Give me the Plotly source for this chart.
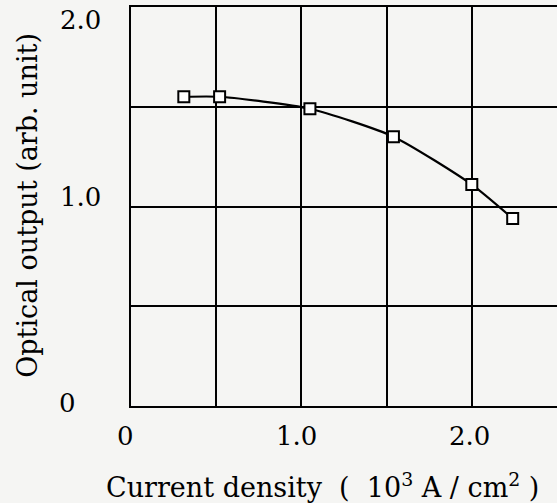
import plotly.graph_objects as go

current_density = [0.31, 0.52, 1.05, 1.54, 2.00, 2.24]
optical_output = [1.55, 1.55, 1.49, 1.35, 1.11, 0.94]

x_tick_values = [0, 1.0, 2.0]
x_tick_labels = ["0", "1.0", "2.0"]
y_tick_values = [0, 1.0, 2.0]
y_tick_labels = ["0", "1.0", "2.0"]

font_family = "DejaVu Serif, Liberation Serif, serif"
bg = "#f5f5f3"

fig = go.Figure()
fig.add_trace(go.Scatter(
    x=current_density, y=optical_output,
    mode="lines+markers",
    line=dict(color="black", width=2.2, shape="spline", smoothing=0.6),
    marker=dict(symbol="square", size=11, color="white",
                line=dict(color="black", width=2)),
    showlegend=False,
    cliponaxis=False,
))

# tick labels placed as annotations (scanned original has irregular offsets)
x_shift = [-6, -5, -2]
y_shift = [3, 10, -13]
y_x = [-0.148, -0.1174, -0.1174]
annotations = []
for v, t, s in zip(x_tick_values, x_tick_labels, x_shift):
    annotations.append(dict(text=t, x=v, xref="x", y=0, yref="paper",
                            yanchor="middle", xanchor="center", yshift=-30, xshift=s,
                            showarrow=False, font=dict(size=26, family=font_family)))
for v, t, s, px in zip(y_tick_values, y_tick_labels, y_shift, y_x):
    annotations.append(dict(text=t, x=px, xref="paper", y=v, yref="y",
                            xanchor="center", yanchor="middle", yshift=s,
                            showarrow=False, font=dict(size=26, family=font_family)))
annotations += [
    dict(text="Optical output (arb. unit)", textangle=-90,
         xref="paper", yref="paper", x=-0.242, y=0.504,
         xanchor="center", yanchor="middle", showarrow=False,
         font=dict(size=27, family=font_family)),
    dict(text="Current density  (  10<sup>3</sup> A / cm<sup>2</sup> )",
         xref="paper", yref="paper", x=0.45, y=-0.198,
         xanchor="center", yanchor="middle", showarrow=False,
         font=dict(size=27, family=font_family)),
]

fig.update_layout(
    width=557, height=503,
    margin=dict(l=131, r=0, t=7, b=97),
    paper_bgcolor=bg, plot_bgcolor=bg,
    font=dict(family=font_family, color="black", size=24),
    xaxis=dict(
        range=[0, 2.5], tickvals=x_tick_values, showticklabels=False,
        showgrid=True, gridcolor="black", gridwidth=2,
        minor=dict(dtick=0.5, showgrid=True, gridcolor="black", gridwidth=2),
        showline=True, linecolor="black", linewidth=2, mirror=True,
        zeroline=False, ticks="",
    ),
    yaxis=dict(
        range=[0, 2.0], tickvals=y_tick_values, showticklabels=False,
        showgrid=True, gridcolor="black", gridwidth=2,
        minor=dict(dtick=0.5, showgrid=True, gridcolor="black", gridwidth=2),
        showline=True, linecolor="black", linewidth=2, mirror=False,
        zeroline=False, ticks="",
    ),
    annotations=annotations,
)

fig.write_html("out.html", config={"displayModeBar": False},
               post_script="document.body.style.margin='0';document.body.style.overflow='hidden';")
